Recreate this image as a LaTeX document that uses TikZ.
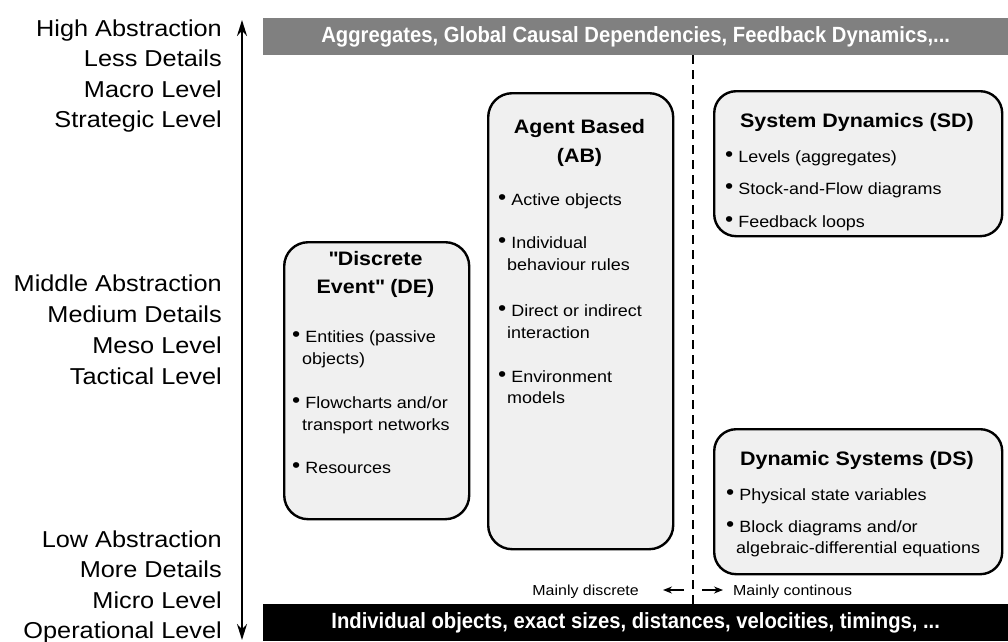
\documentclass[tikz,border=0pt]{standalone}
\usepackage{fontspec}
\setmainfont{Liberation Sans}[FakeStretch=1.1]
\newfontfamily\barfont{Liberation Sans}[FakeStretch=0.92]
\usetikzlibrary{arrows.meta}
\definecolor{boxgray}{gray}{0.94}
\definecolor{bargray}{gray}{0.5}
\newcommand{\itm}{\raisebox{0.3pt}{\scalebox{1.3}{\textbullet}}\ }
\tikzset{
  lvl/.style={anchor=base east,inner sep=0pt,font=\fontsize{23}{27}\selectfont},
  model/.style={draw,line width=2.4pt,rounded corners=24pt,fill=boxgray,anchor=north west},
  mtitle/.style={anchor=base,inner sep=0pt,font=\bfseries\fontsize{19.5}{24}\selectfont},
  item/.style={anchor=base west,inner sep=0pt,font=\fontsize{16.3}{20}\selectfont},
  bar/.style={anchor=north west,inner sep=0pt,minimum width=745pt,minimum height=37pt,
    text=white,font=\barfont\bfseries\fontsize{22}{26}\selectfont},
  side/.style={inner sep=0pt,font=\fontsize{14.5}{17}\selectfont},
  divide/.style={line width=2.2pt,dash pattern=on 9pt off 6pt},
  tip/.style={-{Stealth[length=9pt,width=7pt]},line width=1.3pt}
}
\begin{document}
\begin{tikzpicture}[x=1pt,y=-1pt]
\useasboundingbox (0,0) rectangle (1008,641);
% abstraction axis
\node[lvl] (high) at (222,36) {High Abstraction};
\node[lvl] (less) at (222,66) {Less Details};
\node[lvl] (macro) at (222,97) {Macro Level};
\node[lvl] (strat) at (222,127) {Strategic Level};
\node[lvl] (middle) at (222,291) {Middle Abstraction};
\node[lvl] (medium) at (222,322) {Medium Details};
\node[lvl] (meso) at (222,353) {Meso Level};
\node[lvl] (tact) at (222,384) {Tactical Level};
\node[lvl] (low) at (222,547) {Low Abstraction};
\node[lvl] (more) at (222,577) {More Details};
\node[lvl] (micro) at (222,608) {Micro Level};
\node[lvl] (oper) at (222,638) {Operational Level};
\coordinate (axtop) at (242,20);
\coordinate (axbot) at (242,640);
\draw[{Stealth[length=16pt,width=10pt]}-{Stealth[length=16pt,width=10pt]},line width=2pt] (axtop) -- (axbot);
% bars
\node[bar,fill=bargray] (agg) at (263,18) {Aggregates, Global Causal Dependencies, Feedback Dynamics,...};
\node[bar,fill=black] (indiv) at (263,604) {Individual objects, exact sizes, distances, velocities, timings, ...};
% discrete / continuous split
\coordinate (dtop) at (693,55);
\coordinate (dbot) at (693,604);
\draw[divide] (dtop) -- (dbot);
\node[side,anchor=base east] (disc) at (639,595) {Mainly discrete};
\node[side,anchor=base west] (cont) at (733,595) {Mainly continous};
\coordinate (dl) at (684,590);
\coordinate (dr) at (702,590);
\draw[tip] (dl) -- ++(-21,0);
\draw[tip] (dr) -- ++(21,0);
% DE
\node[model,minimum width=185pt,minimum height=277pt] (de) at (283,241) {};
\node[mtitle] (det1) at (375.5,265) {\textquotedbl Discrete};
\node[mtitle] (det2) at (375.5,293) {Event\textquotedbl\ (DE)};
\node[item] (de1) at (292,342) {\itm Entities (passive};
\node[item] (de1b) at (302,364) {objects)};
\node[item] (de2) at (292,408) {\itm Flowcharts and/or};
\node[item] (de2b) at (302,430) {transport networks};
\node[item] (de3) at (292,473) {\itm Resources};
% AB
\node[model,minimum width=185pt,minimum height=456pt] (ab) at (487,92) {};
\node[mtitle] (abt1) at (579.5,133) {Agent Based};
\node[mtitle] (abt2) at (579.5,162) {(AB)};
\node[item] (ab1) at (498,205) {\itm Active objects};
\node[item] (ab2) at (498,248) {\itm Individual};
\node[item] (ab2b) at (507,270) {behaviour rules};
\node[item] (ab3) at (498,316) {\itm Direct or indirect};
\node[item] (ab3b) at (507,338) {interaction};
\node[item] (ab4) at (498,382) {\itm Environment};
\node[item] (ab4b) at (507,403) {models};
% SD
\node[model,minimum width=288pt,minimum height=145pt,rounded corners=22pt] (sd) at (713,90) {};
\node[mtitle] (sdt) at (857,127) {System Dynamics (SD)};
\node[item] (sd1) at (725,162) {\itm Levels (aggregates)};
\node[item] (sd2) at (725,194) {\itm Stock-and-Flow diagrams};
\node[item] (sd3) at (725,227) {\itm Feedback loops};
% DS
\node[model,minimum width=288pt,minimum height=145pt,rounded corners=22pt] (ds) at (713,428) {};
\node[mtitle] (dst) at (857,465) {Dynamic Systems (DS)};
\node[item] (ds1) at (726,500) {\itm Physical state variables};
\node[item] (ds2) at (726,532) {\itm Block diagrams and/or};
\node[item] (ds2b) at (736,553) {algebraic-differential equations};
\end{tikzpicture}
\end{document}
